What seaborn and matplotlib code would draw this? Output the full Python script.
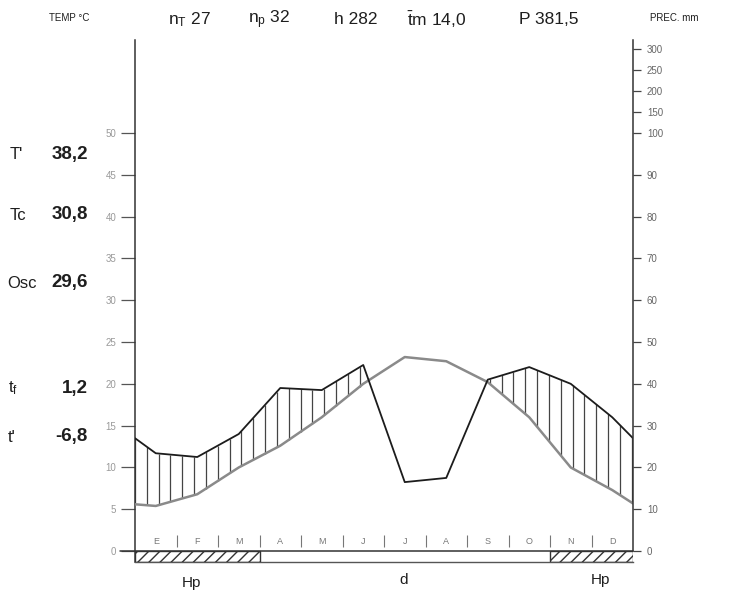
import numpy as np
import pandas as pd
import matplotlib
matplotlib.use("Agg")
import matplotlib.pyplot as plt
from matplotlib.patches import Rectangle
import seaborn as sns

# climate diagram data (Walter-Lieth style)
months = ["E", "F", "M", "A", "M", "J", "J", "A", "S", "O", "N", "D"]
temp = [5.4, 6.8, 10.0, 12.6, 16.0, 20.0, 23.2, 22.7, 20.2, 16.0, 10.0, 7.3]      # degC
prec = [23.4, 22.5, 28.0, 39.0, 38.5, 44.5, 16.5, 17.5, 41.0, 44.0, 40.0, 32.0]  # mm
temp_edge = [5.6, 5.7]      # value where the curve meets the left / right axis
prec_edge = [27.0, 27.0]
humid_months = [(0, 3), (10, 12)]   # hatched strip (Hp)

temp_ticks = [0, 5, 10, 15, 20, 25, 30, 35, 40, 45, 50]
prec_ticks = [0, 10, 20, 30, 40, 50, 60, 70, 80, 90, 100, 150, 200, 250, 300]

side_names = ["T'", "Tc", "Osc", r"$\mathregular{t_f}$", "t'"]
side_values = ["38,2", "30,8", "29,6", "1,2", "-6,8"]
side_rows = [155, 215, 283, 388, 437]


def mm_to_scale(p):
    p = np.asarray(p, dtype=float)
    return np.where(p <= 100, p / 2.0, 50 + (p - 100) / 20.0)


sns.set_theme(style="white")
plt.rcParams["font.family"] = ["Liberation Sans", "DejaVu Sans"]
plt.rcParams["hatch.linewidth"] = 1.0

W, H = 734, 598
fig = plt.figure(figsize=(W / 100, H / 100), dpi=100)
ymin, ymax = -1.3, 61.1
ax = fig.add_axes([135 / W, 1 - 562 / H, (633 - 135) / W, (562 - 40) / H])
ax.set_xlim(0, 12)
ax.set_ylim(ymin, ymax)

x = np.concatenate([[0], np.arange(12) + 0.5, [12]])
t_line = np.concatenate([[temp_edge[0]], temp, [temp_edge[1]]])
p_line = np.concatenate([[mm_to_scale(prec_edge[0])], mm_to_scale(prec), [mm_to_scale(prec_edge[1])]])
df = pd.DataFrame({"x": x, "temp": t_line, "prec": p_line})

# vertical hatching where precipitation lies above temperature
xs = np.arange(0, 12.001, 0.285)
tt = np.interp(xs, df["x"], df["temp"])
pp = np.interp(xs, df["x"], df["prec"])
wet = pp > tt
ax.vlines(xs[wet], tt[wet], pp[wet], color="#444444", lw=0.9, zorder=2)

sns.lineplot(data=df, x="x", y="temp", ax=ax, color="#8a8a8a", lw=1.8, sort=False, zorder=3)
sns.lineplot(data=df, x="x", y="prec", ax=ax, color="#1c1c1c", lw=1.3, sort=False, zorder=4)

# month strip and hatched humid band
for a, b in humid_months:
    ax.add_patch(Rectangle((a, ymin), b - a, -ymin, fill=False, hatch="///",
                           edgecolor="#333333", lw=1.0, zorder=3))
ax.plot([-0.35, 12], [0, 0], color="#333333", lw=1.1, clip_on=False, zorder=4)
ax.vlines(np.arange(1, 12), 0.5, 1.9, color="#777777", lw=0.8)
for i, m in enumerate(months):
    ax.text(i + 0.5, 1.2, m, ha="center", va="center", fontsize=6.5, color="#777777")

ax.set_xticks([])
ax.set_xlabel("")
ax.set_ylabel("")
ax.set_yticks(temp_ticks)
ax.set_yticklabels([str(v) for v in temp_ticks])
ax.tick_params(axis="y", left=True, length=10, width=0.9, color="#555555",
               labelsize=7, labelcolor="#999999", pad=3.5)
ax.spines["top"].set_visible(False)
ax.spines["left"].set_color("#333333")
ax.spines["left"].set_linewidth(1.1)
ax.spines["bottom"].set_color("#555555")
ax.spines["bottom"].set_linewidth(1.0)
ax.spines["right"].set_visible(False)

ax2 = ax.twinx()
ax2.set_ylim(ymin, ymax)
ax2.set_yticks(mm_to_scale(prec_ticks))
ax2.set_yticklabels([str(v) for v in prec_ticks])
ax2.tick_params(axis="y", right=True, length=6, width=0.9, color="#444444",
                labelsize=7, labelcolor="#666666", pad=4)
for s in ["top", "left", "bottom"]:
    ax2.spines[s].set_visible(False)
ax2.spines["right"].set_bounds(0, ymax)
ax2.spines["right"].set_color("#333333")
ax2.spines["right"].set_linewidth(1.1)
ax2.grid(False)
ax.grid(False)


def ftext(px, py, s, **kw):
    fig.text(px / W, 1 - py / H, s, va="center", color="#1e1e1e", **kw)


ftext(49, 18, "TEMP °C", fontsize=7)
ftext(650, 18, "PREC. mm", fontsize=7)
ftext(168, 20, r"$\mathregular{n_T}$ 27", fontsize=12.5)
ftext(248, 20, r"$\mathregular{n_p}$ 32", fontsize=12.5)
ftext(334, 20, "h 282", fontsize=12.5)
ftext(407, 20, r"$\mathregular{\bar{t}m}$ 14,0", fontsize=12.5)
ftext(519, 20, "P 381,5", fontsize=12.5)

name_x = [10, 10, 7, 8, 8]
for nx, name, val, row in zip(name_x, side_names, side_values, side_rows):
    ftext(nx, row, name, fontsize=12)
    ftext(88, row, val, fontsize=13.5, fontweight="bold", ha="right")

ftext(191, 583, "Hp", fontsize=11, ha="center")
ftext(404, 580, "d", fontsize=11, ha="center")
ftext(600, 580, "Hp", fontsize=11, ha="center")

fig.savefig("out.png", dpi=100)
